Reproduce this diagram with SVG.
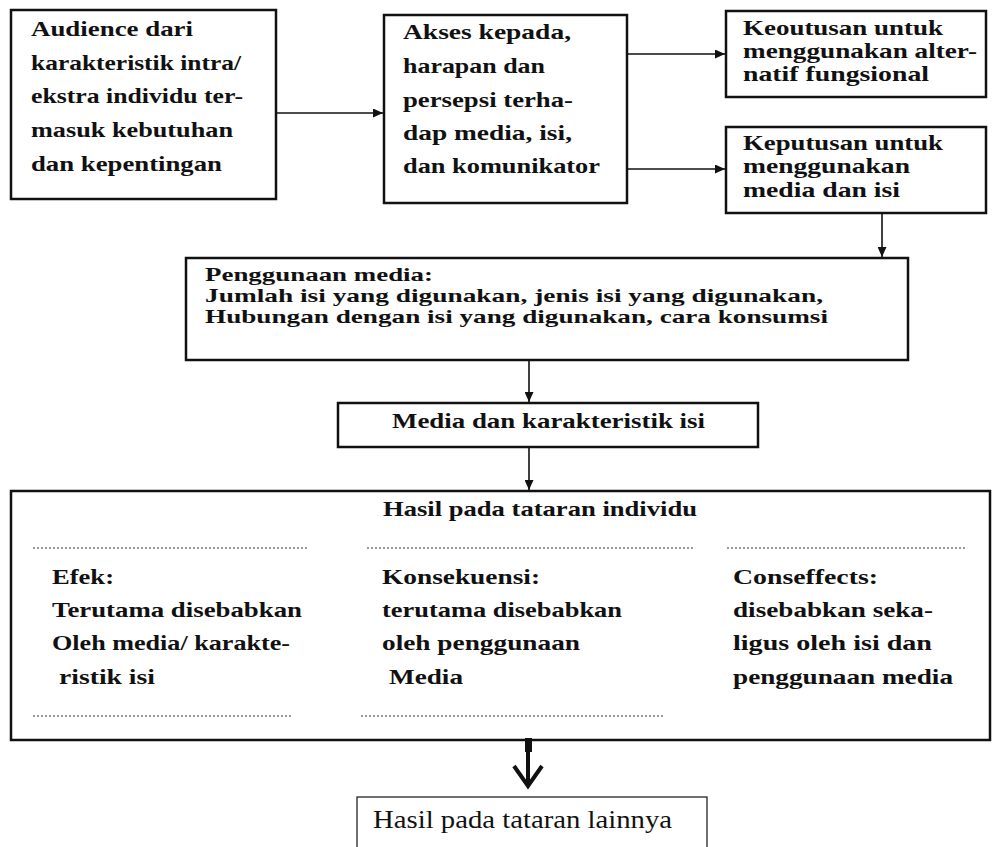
<svg xmlns="http://www.w3.org/2000/svg" width="993" height="847" viewBox="0 0 993 847">
<style>
  .box{fill:#fff;stroke:#111;stroke-width:2.5}
  .thin{fill:#fff;stroke:#111;stroke-width:1.2}
  .t{font-family:"Liberation Serif","Times New Roman",serif;font-weight:bold;fill:#111}
  .r{font-family:"Liberation Serif","Times New Roman",serif;fill:#111}
  .con{stroke:#111;stroke-width:1.6;fill:none}
  .dot{stroke:#333;stroke-width:1.2;stroke-dasharray:2 2;fill:none}
</style>
<defs>
  <marker id="ah" markerUnits="userSpaceOnUse" markerWidth="11" markerHeight="9" refX="10" refY="4.5" orient="auto">
    <path d="M0,0 L10,4.5 L0,9 z" fill="#111"/>
  </marker>
</defs>
<rect width="993" height="847" fill="#fff"/>

<g id="n1">
  <rect class="box" x="11" y="10" width="265" height="189"/>
  <g class="t" font-size="22">
    <text x="31" y="36" textLength="162" lengthAdjust="spacingAndGlyphs">Audience dari</text>
    <text x="31" y="70" textLength="210" lengthAdjust="spacingAndGlyphs">karakteristik intra/</text>
    <text x="31" y="103" textLength="212" lengthAdjust="spacingAndGlyphs">ekstra individu ter-</text>
    <text x="31" y="137" textLength="202" lengthAdjust="spacingAndGlyphs">masuk kebutuhan</text>
    <text x="31" y="171" textLength="191" lengthAdjust="spacingAndGlyphs">dan kepentingan</text>
  </g>
</g>

<g id="n2">
  <rect class="box" x="384" y="15" width="243" height="188"/>
  <g class="t" font-size="22">
    <text x="403" y="39" textLength="168" lengthAdjust="spacingAndGlyphs">Akses kepada,</text>
    <text x="403" y="73" textLength="142" lengthAdjust="spacingAndGlyphs">harapan dan</text>
    <text x="403" y="107" textLength="170" lengthAdjust="spacingAndGlyphs">persepsi terha-</text>
    <text x="403" y="140" textLength="169" lengthAdjust="spacingAndGlyphs">dap media, isi,</text>
    <text x="403" y="173" textLength="197" lengthAdjust="spacingAndGlyphs">dan komunikator</text>
  </g>
</g>

<g id="n3">
  <rect class="box" x="726" y="11" width="260" height="86"/>
  <g class="t" font-size="21">
    <text x="743" y="35" textLength="200" lengthAdjust="spacingAndGlyphs">Keoutusan untuk</text>
    <text x="743" y="58" textLength="234" lengthAdjust="spacingAndGlyphs">menggunakan alter-</text>
    <text x="743" y="81" textLength="186" lengthAdjust="spacingAndGlyphs">natif fungsional</text>
  </g>
</g>

<g id="n4">
  <rect class="box" x="726" y="127" width="260" height="86"/>
  <g class="t" font-size="21">
    <text x="743" y="150" textLength="200" lengthAdjust="spacingAndGlyphs">Keputusan untuk</text>
    <text x="743" y="173" textLength="167" lengthAdjust="spacingAndGlyphs">menggunakan</text>
    <text x="743" y="197" textLength="157" lengthAdjust="spacingAndGlyphs">media dan isi</text>
  </g>
</g>

<g id="n5">
  <rect class="box" x="186" y="258" width="722" height="102"/>
  <g class="t" font-size="19">
    <text x="205" y="281" textLength="228" lengthAdjust="spacingAndGlyphs">Penggunaan media:</text>
    <text x="205" y="302" textLength="618" lengthAdjust="spacingAndGlyphs">Jumlah isi yang digunakan, jenis isi yang digunakan,</text>
    <text x="205" y="323" textLength="623" lengthAdjust="spacingAndGlyphs">Hubungan dengan isi yang digunakan, cara konsumsi</text>
  </g>
</g>

<g id="n6">
  <rect class="box" x="338" y="403" width="420" height="44"/>
  <text class="t" font-size="21" x="392" y="428" textLength="313" lengthAdjust="spacingAndGlyphs">Media dan karakteristik isi</text>
</g>

<g id="n7">
  <rect class="box" x="11" y="491" width="979" height="249"/>
  <text class="t" font-size="21" x="383" y="516" textLength="314" lengthAdjust="spacingAndGlyphs">Hasil pada tataran individu</text>
  <line class="dot" x1="33" y1="548" x2="307" y2="548"/>
  <line class="dot" x1="367" y1="548" x2="695" y2="548"/>
  <line class="dot" x1="727" y1="548" x2="965" y2="548"/>
  <g class="t" font-size="21">
    <text x="52" y="584" textLength="62" lengthAdjust="spacingAndGlyphs">Efek:</text>
    <text x="52" y="617" textLength="250" lengthAdjust="spacingAndGlyphs">Terutama disebabkan</text>
    <text x="52" y="650" textLength="238" lengthAdjust="spacingAndGlyphs">Oleh media/ karakte-</text>
    <text x="59" y="684" textLength="96" lengthAdjust="spacingAndGlyphs">ristik isi</text>
    <text x="382" y="584" textLength="158" lengthAdjust="spacingAndGlyphs">Konsekuensi:</text>
    <text x="382" y="617" textLength="240" lengthAdjust="spacingAndGlyphs">terutama disebabkan</text>
    <text x="382" y="650" textLength="198" lengthAdjust="spacingAndGlyphs">oleh penggunaan</text>
    <text x="389" y="684" textLength="74" lengthAdjust="spacingAndGlyphs">Media</text>
    <text x="733" y="584" textLength="145" lengthAdjust="spacingAndGlyphs">Conseffects:</text>
    <text x="733" y="617" textLength="200" lengthAdjust="spacingAndGlyphs">disebabkan seka-</text>
    <text x="733" y="650" textLength="199" lengthAdjust="spacingAndGlyphs">ligus oleh isi dan</text>
    <text x="733" y="684" textLength="220" lengthAdjust="spacingAndGlyphs">penggunaan media</text>
  </g>
  <line class="dot" x1="33" y1="716" x2="293" y2="716"/>
  <line class="dot" x1="361" y1="716" x2="665" y2="716"/>
</g>

<g id="n8">
  <rect class="thin" x="357" y="797" width="350" height="60"/>
  <text class="r" font-size="26" x="373" y="828" textLength="299" lengthAdjust="spacingAndGlyphs">Hasil pada tataran lainnya</text>
</g>

<g id="connectors">
  <line class="con" x1="277" y1="113" x2="383" y2="113" marker-end="url(#ah)"/>
  <line class="con" x1="628" y1="54" x2="725" y2="54" marker-end="url(#ah)"/>
  <line class="con" x1="628" y1="169" x2="725" y2="169" marker-end="url(#ah)"/>
  <line class="con" x1="882" y1="214" x2="882" y2="257" stroke-width="2" marker-end="url(#ah)"/>
  <line class="con" x1="529" y1="361" x2="529" y2="402" stroke-width="2" marker-end="url(#ah)"/>
  <line class="con" x1="529" y1="448" x2="529" y2="490" stroke-width="2" marker-end="url(#ah)"/>
  <rect x="525" y="738" width="7" height="14" fill="#111"/>
  <line x1="528" y1="750" x2="528" y2="784" stroke="#111" stroke-width="4"/>
  <polyline points="514,766 528,786 542,766" fill="none" stroke="#111" stroke-width="4" stroke-linejoin="miter"/>
</g>
</svg>
